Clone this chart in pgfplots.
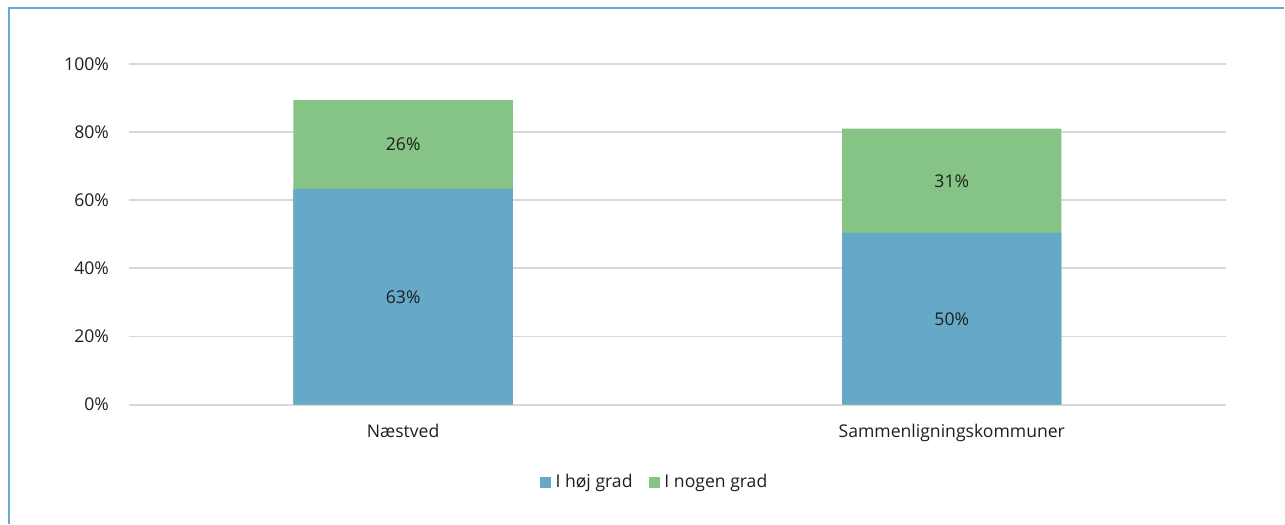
\documentclass[border=0pt]{standalone}
\usepackage{pgfplots}
\pgfplotsset{compat=1.18}
\usepackage{fontspec}
\setmainfont{Open Sans}
\definecolor{cblue}{HTML}{65A8C8}
\definecolor{cgreen}{HTML}{85C484}
\definecolor{cframe}{HTML}{6BA8D2}
\definecolor{cgrid}{HTML}{D9D9D9}
\definecolor{ctext}{HTML}{1E1E1E}
\begin{document}
\fontsize{17.6}{21}\selectfont
\begin{tikzpicture}[x=1pt,y=1pt]
\path (0,0) rectangle (1285,524);
\draw[cframe, line width=2pt] (9,0) -- (9,516) -- (1285,516);
\begin{axis}[
  at={(129pt,119pt)}, anchor=south west,
  scale only axis, width=1098pt, height=341pt,
  xmin=-0.5, xmax=1.5, ymin=0, ymax=100,
  axis line style={draw=none},
  /pgf/number format/assume math mode=true,
  ymajorgrids, grid style={cgrid, line width=1.8pt},
  ytick={0,20,40,60,80,100},
  yticklabels={0\%,20\%,40\%,60\%,80\%,100\%},
  xtick={0,1}, xticklabels={Næstved,Sammenligningskommuner},
  major tick length=0pt,
  tick label style={font=\fontsize{17.6}{21}\selectfont, text=ctext},
  yticklabel style={xshift=-14pt},
  xticklabel style={yshift=-13pt},
  legend style={at={(0.479,-0.2287)}, anchor=center, draw=none, fill=none,
    legend columns=2, font=\fontsize{17.6}{21}\selectfont, text=ctext,
    /tikz/every even column/.style={column sep=14pt},
    /tikz/every odd column/.style={column sep=3pt}},
  legend cell align=left,
  legend image code/.code={\fill[#1, draw=none] (0pt,-5.5pt) rectangle (11pt,5.5pt);},
  clip=false,
]
\addplot[ybar, bar width=219.6pt, bar shift=0pt, fill=cgreen, draw=none, forget plot] coordinates {(0,89.4) (1,81.0)};
\addplot[ybar, bar width=219.6pt, bar shift=0pt, fill=cblue, draw=none, forget plot] coordinates {(0,63.3) (1,50.4)};
\addplot[draw=none, mark=none, forget plot, point meta=explicit,
  nodes near coords={\pgfmathprintnumber{\pgfplotspointmeta}\%},
  every node near coord/.style={anchor=center, text=ctext, font=\fontsize{17.6}{21}\selectfont}]
  table[meta=v] {
x y v
0 31.65 63
0 76.35 26
1 25.2 50
1 65.7 31
};
\addlegendimage{fill=cblue, draw=none}
\addlegendentry{I høj grad}
\addlegendimage{fill=cgreen, draw=none}
\addlegendentry{I nogen grad}
\end{axis}
\end{tikzpicture}
\end{document}
